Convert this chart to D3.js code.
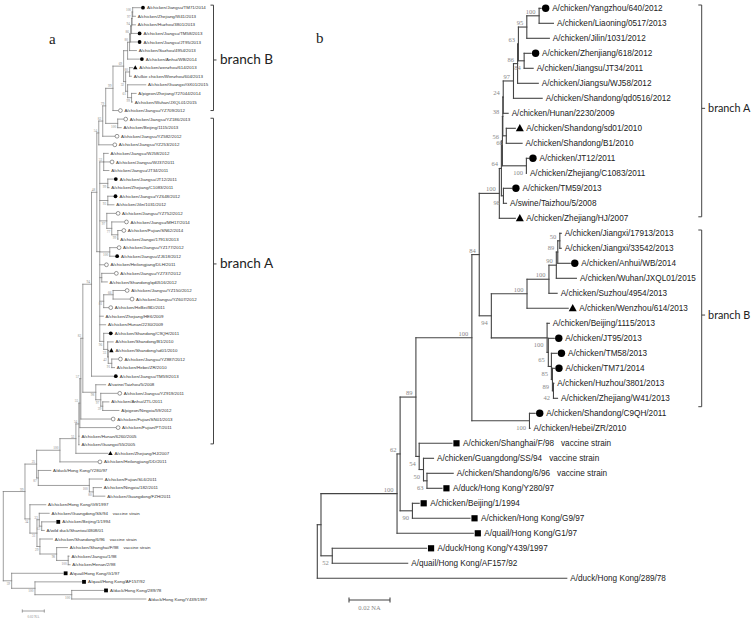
<!DOCTYPE html>
<html><head><meta charset="utf-8">
<script src="https://cdn.jsdelivr.net/npm/d3@7"></script>
<style>body{margin:0;background:#fff}</style>
</head><body>
<svg id="chart" width="754" height="621"></svg>
<script>
// ================= DATA =================
// Panel a taxa (top to bottom)
const taxaA = [
"A/chicken/Jiangsu/TM71/2014","A/chicken/Zhejiang/W41/2013","A/chicken/Huzhou/3801/2013",
"A/chicken/Jiangsu/TM58/2013","A/chicken/Jiangsu/JT95/2013","A/chicken/Suzhou/4954/2013",
"A/chicken/Anhui/WB/2014","A/chicken/wenzhou/614/2013","A/silkie chicken/Wenzhou/604/2013",
"A/chicken/Guangxi/GX01/2015","A/pigeon/Zhejiang/727044/2014","A/chicken/Wuhan/JXQL01/2015",
"A/chicken/Jiangsu/YZ709/2012","A/chicken/Jiangsu/YZ186/2013","A/chicken/Beijing/1115/2013",
"A/chicken/Jiangsu/YZ582/2012","A/chicken/Jiangsu/YZ253/2012","A/chicken/Jiangsu/WJ58/2012",
"A/chicken/Jiangsu/WJ37/2011","A/chicken/Jiangsu/JT34/2011","A/chicken/Jiangsu/JT12/2011",
"A/chicken/Zhejiang/C1083/2011","A/chicken/Jiangsu/YZ648/2012","A/chicken/Jilin/1031/2012",
"A/chicken/Jiangsu/YZ752/2012","A/chicken/Jiangsu/MH17/2014","A/chicken/Fujian/SN62/2014",
"A/chicken/Jiangxi/17913/2013","A/chicken/Jiangsu/YZ177/2012","A/chicken/Jiangsu/ZJ618/2012",
"A/chicken/Heilongjiang/DLH/2011","A/chicken/Jiangsu/YZ737/2012","A/chicken/Shandong/qd0516/2012",
"A/chicken/Jiangsu/YZ150/2012","A/chicken/Jiangsu/YZ607/2012","A/chicken/HeBei/BD/2011",
"A/chicken/Zhejiang/HE6/2009","A/chicken/Hunan/2230/2009","A/chicken/Shandong/C9QH/2011",
"A/chicken/Shandong/B1/2010","A/chicken/Shandong/sd01/2010","A/chicken/Jiangsu/YZ887/2012",
"A/chicken/Hebei/ZR/2010","A/chicken/Jiangsu/TM59/2013","A/swine/Taizhou/5/2008",
"A/chicken/Jiangsu/YZ919/2011","A/chicken/Anhui/ZTL/2011","A/pigeon/Ningxia/59/2012",
"A/chicken/Fujian/SN01/2013","A/chicken/Fujian/PT/2011","A/chicken/Hunan/6260/2005",
"A/chicken/Guangxi/55/2005","A/chicken/Zhejiang/HJ/2007","A/chicken/Heilongjiang/DD/2011",
"A/duck/Hong Kong/Y280/97","A/chicken/Fujian/SL6/2011","A/chicken/Ningxia/182/2011",
"A/chicken/Guangdong/FZH/2011","A/chicken/Hong Kong/G9/1997","A/chicken/Guangdong/SS/94",
"A/chicken/Beijing/1/1994","A/wild duck/Shantou/4808/01","A/chicken/Shandong/6/96",
"A/chicken/Shanghai/F/98","A/chicken/Jiangsu/1/98","A/chicken/Henan/2/98",
"A/quail/Hong Kong/G1/97","A/quail/Hong Kong/AF157/92","A/duck/Hong Kong/289/78",
"A/duck/Hong Kong/Y439/1997"
];
// c = filled circle, o = open circle, t = triangle, s = square, - = none
const marksA = ("c--cc-ct--" + "--oo-oo-o-" + "c-c-ooo-oc" + "oo-ooo--c-" +
                "to-c-o--oo" + "--to------" + "s-----sss-").split("");
const vaccineA = [59, 62, 63];

// Panel a tree: leaves are taxon indices, internal labels are bootstrap values,
// numbers after ":" are branch lengths (substitutions per site)
const a100a = "(0:0.0071,1:0.0025)100";
const a97 = "(" + a100a + ":0.0005,2:0.003)97";
const a94b = "(" + a97 + ":0.0005,3:0.005)94";
const a86 = "(" + a94b + ":0.0009,4:0.0059)86";
const a80 = "(" + a86 + ":0.0009,5:0.0062)80";
const aX = "(" + a80 + ":0.0018,6:0.0107)";
const aWz = "(7:0.0029,8:0.0016)80";
const a99g = "(10:0.0041,11:0.0007)99";
const a61 = "(9:0.0165," + a99g + ":0.0036)61";
const a32 = "(" + aWz + ":0.0036," + a61 + ":0.0018)32";
const a69 = "(" + aX + ":0.0036," + a32 + ":0.0018)69";
const aB = "(" + a69 + ":0.0097,12:0.0045)99";
const a100s = "(13:0.005,14:0.0032)100";
const a79 = "(" + aB + ":0.0066," + a100s + ":0.0109)79";
const a82b = "(" + a79 + ":0.0027,15:0.0107)82";
const a54a = "(" + a82b + ":0.0036,16:0.0123)54";
const aG4 = "(17:0.0041,18:0.0053,19:0.0047)32";
const aG5 = "(20:0.005,21:0.0011)99";
const aG6 = "(22:0.0047,23:0.0056)93";
const aG7 = "(24:0.008,(25:0.0111,(26:0.0032,27:0.0002)99:0.0055)77:0.0045)97";
const aG8 = "(28:0.0062,29:0.0044)100";
const aG10 = "(31:0.011,32:0.005)";
const aG11 = "((33:0.0105,34:0.015)66:0.0085,35:0.0041)81";
const aG13 = "(38:0.0041,(39:0.005,(40:0.0006,(41:0.0056,42:0.0025)91:0.0032)42:0.0005)33:0.0036)96";
const aA1 = "(" + aG4 + ":0.0036," + aG5 + ":0.0073," + aG6 + ":0.0073," + aG7 + ":0.0064," +
            aG8 + ":0.0091,30:0.0038," + aG10 + ":0.0018," + aG11 + ":0.0036,36:0.0032,37:0.0053," +
            aG13 + ":0.0036)";
const a48 = "(" + a54a + ":0.0018," + aA1 + ":0.0027)48";
const a94 = "(" + a48 + ":0.0048,43:0.0198)94";
const a39 = "(46:0.0056,47:0.0147)39";
const a97g = "(45:0.015," + a39 + ":0.0018)97";
const a98g = "(44:0.0089," + a97g + ":0.0045)98";
const a82 = "(" + a94 + ":0.0079," + a98g + ":0.0118)82";
const a57 = "(" + a82 + ":0.0018,48:0.0271)57";
const a55 = "(" + a57 + ":0.0009,49:0.0325)55";
const a54 = "(" + a55 + ":0.0009,50:0.0002,51:0.0002)54";
const a53 = "(" + a54 + ":0.0027,52:0.0291)53";
const a100c = "(" + a53 + ":0.0145,53:0.0341)100";
const a80f = "(56:0.0075,57:0.0105)80";
const aSL6 = "(55:0.012," + a80f + ":0.0036)100";
const a87 = "(54:0.0114," + aSL6 + ":0.0464)87";
const a25 = "(" + a100c + ":0.0212," + a87 + ":0.0015)25";
const aBw = "(60:0.0128,61:0.0023)63";
const a33 = "(59:0.009," + aBw + ":0.0022)33";
const a100v = "(64:0.0008,65:0.0017)100";
const a98v = "(63:0.0098," + a100v + ":0.0105)98";
const a29 = "(62:0.0114," + a98v + ":0.0152)29";
const a31 = "(" + a33 + ":0.0021," + a29 + ":0.0027)31";
const a34 = "(58:0.0144," + a31 + ":0.0064)34";
const a99r = "(" + a25 + ":0.0106," + a34 + ":0.0045)99";
const a100d = "(68:0.0289,69:0.0674)100";
const a100q = "(67:0.0423," + a100d + ":0.0334)100";
const a59 = "(66:0.0468," + a100q + ":0.0212)59";
const newickA = "(" + a99r + ":0.0197," + a59 + ":0.0076);";

// Panel b taxa (top to bottom)
const taxaB = [
"A/chicken/Yangzhou/640/2012","A/chicken/Liaoning/0517/2013","A/chicken/Jilin/1031/2012",
"A/chicken/Zhenjiang/618/2012","A/chicken/Jiangsu/JT34/2011","A/chicken/Jiangsu/WJ58/2012",
"A/chicken/Shandong/qd0516/2012","A/chicken/Hunan/2230/2009","A/chicken/Shandong/sd01/2010",
"A/chicken/Shandong/B1/2010","A/chicken/JT12/2011","A/chicken/Zhejiang/C1083/2011",
"A/chicken/TM59/2013","A/swine/Taizhou/5/2008","A/chicken/Zhejiang/HJ/2007",
"A/chicken/Jiangxi/17913/2013","A/chicken/Jiangxi/33542/2013","A/chicken/Anhui/WB/2014",
"A/chicken/Wuhan/JXQL01/2015","A/chicken/Suzhou/4954/2013","A/chicken/Wenzhou/614/2013",
"A/chicken/Beijing/1115/2013","A/chicken/JT95/2013","A/chicken/TM58/2013",
"A/chicken/TM71/2014","A/chicken/Huzhou/3801/2013","A/chicken/Zhejiang/W41/2013",
"A/chicken/Shandong/C9QH/2011","A/chicken/Hebei/ZR/2010","A/chicken/Shanghai/F/98",
"A/chicken/Guangdong/SS/94","A/chicken/Shandong/6/96","A/duck/Hong Kong/Y280/97",
"A/chicken/Beijing/1/1994","A/chicken/Hong Kong/G9/97","A/quail/Hong Kong/G1/97",
"A/duck/Hong Kong/Y439/1997","A/quail/Hong Kong/AF157/92","A/duck/Hong Kong/289/78"
];
const marksB = ("c--c----t-" + "c-c-t--c--" + "t-ccc--c-s" + "--sssss--").split("");
const vaccineB = [29, 30, 31];

const bA = "((((((((((0:0.001,1:0.007)100:0.006,2:0.011)95:0.0041,(3:0.0034,4:0.0044)84:0.0028)63:0.0004," +
           "5:0.0101)86:0.002,6:0.014)97:0.005,7:0.0024)24:0.0002,(8:0.0044,9:0.0077)66:0.0017)38:0.0002," +
           "(10:0.001,11:0)100:0.0117)56:0.0005,(12:0.0039,13:0.0015)98:0.001)64:0.001,14:0.0078)100";
const b100c = "(((((15:0.0007,16:0.0007)50:0.001,17:0.0061)89:0.0007,18:0.0098)90:0.0036,19:0.004)100:0.0107,20:0.0201)100";
const b100e = "(21:0.0011,(22:0.0029,(23:0.0027,(24:0.001,(25:0.0002,26:0.002)42:0.0005)89:0.0005)85:0.0015)65:0.0006)100";
const b94 = "(" + b100c + ":0.0174," + b100e + ":0.0272)94";
const b84 = "(" + bA + ":0.0098," + b94 + ":0.0059)84";
const b100f = "(27:0.0028,28:0.0003)100";
const b100b = "(" + b84 + ":0.0036," + b100f + ":0.0281)100";
const b54 = "(29:0.016,(30:0.0049,(31:0.0128,32:0.0073)63:0.0017)50:0.0021)54";
const b89 = "(" + b100b + ":0.0273," + b54 + ":0.0016)89";
const b90 = "(33:0.0033,34:0.0281)90";
const b62 = "(" + b89 + ":0.0077," + b90 + ":0.006)62";
const b100top = "(" + b62 + ":0.0015,35:0.0372)100";
const b52 = "(36:0.046,37:0.0368)52";
const newickB = "((" + b100top + ":0.0371," + b52 + ":0.0055):0.0018,38:0.1217);";

const scaleBarValue = 0.02;
const scaleBarText = "0.02 NA";
// brackets: [label, first leaf, last leaf, label row] in leaf-row units
const bracketsA = [["branch B", -0.3, 12.0, 6.1], ["branch A", 12.9, 50.9, 29.9]];
const bracketsB = [["branch A", -0.22, 13.9, 6.67], ["branch B", 14.78, 26.56, 20.45]];

// ================= DRAWING =================
function parseNewick(s) {
  let i = 0;
  function node() {
    const n = {children: []};
    if (s[i] === "(") {
      i++;
      n.children.push(node());
      while (s[i] === ",") { i++; n.children.push(node()); }
      i++;
    }
    let name = "";
    while (i < s.length && !",):;".includes(s[i])) name += s[i++];
    n.name = name;
    n.length = 0;
    if (s[i] === ":") {
      i++; let bl = "";
      while (i < s.length && !",);".includes(s[i])) bl += s[i++];
      n.length = +bl;
    }
    if (!n.children.length) delete n.children;
    return n;
  }
  return node();
}

const svg = d3.select("#chart");

function marker(g, m, cx, cy, c) {
  if (m === "c" || m === "o") {
    g.append("circle").attr("cx", cx).attr("cy", cy).attr("r", c.r)
      .attr("fill", m === "c" ? "#000" : "#fff").attr("stroke", m === "c" ? "none" : "#333")
      .attr("stroke-width", c.ow);
  } else if (m === "t") {
    const s = c.tri;
    g.append("path").attr("d", `M${cx},${cy - s * 0.55}L${cx - s / 2},${cy + s * 0.38}L${cx + s / 2},${cy + s * 0.38}Z`)
      .attr("fill", "#000");
  } else if (m === "s") {
    g.append("rect").attr("x", cx - c.sq / 2).attr("y", cy - c.sq / 2)
      .attr("width", c.sq).attr("height", c.sq).attr("fill", "#000");
  }
}

function drawTree(c) {
  const g = svg.append("g");
  const root = d3.hierarchy(parseNewick(c.newick));
  root.eachBefore(d => d.dist = d.parent ? d.parent.dist + d.data.length : 0);
  const x = d3.scaleLinear().domain([0, 1]).range([c.x0, c.x0 + c.ppu]);
  const y = d3.scaleLinear().domain([0, c.taxa.length - 1]).range([c.y0, c.y1]);
  root.eachAfter(d => {
    d.py = d.children ? (d.children[0].py + d.children[d.children.length - 1].py) / 2 : y(+d.data.name);
  });
  const nodes = root.descendants();
  g.selectAll(null).data(nodes.filter(d => d.parent)).join("line")
    .attr("x1", d => x(d.parent.dist)).attr("x2", d => x(d.dist))
    .attr("y1", d => d.py).attr("y2", d => d.py)
    .attr("stroke", c.line).attr("stroke-width", c.lw).attr("stroke-linecap", "square");
  g.selectAll(null).data(nodes.filter(d => d.children)).join("line")
    .attr("x1", d => x(d.dist)).attr("x2", d => x(d.dist))
    .attr("y1", d => d.children[0].py).attr("y2", d => d.children[d.children.length - 1].py)
    .attr("stroke", c.line).attr("stroke-width", c.lw).attr("stroke-linecap", "square");
  // bootstrap values
  g.selectAll(null).data(nodes.filter(d => d.children && d.parent && d.data.name)).join("text")
    .attr("x", d => x(d.dist) - c.bx)
    .attr("y", d => d.parent.children[0] === d ? d.py - c.bUp : d.py + c.bDown)
    .attr("text-anchor", "end").attr("font-family", "Liberation Serif, serif")
    .attr("font-size", c.bfs).attr("fill", c.bcol).text(d => d.data.name);
  // leaves
  root.leaves().forEach(d => {
    const i = +d.data.name, tx = x(d.dist), m = c.marks[i];
    const has = m && m !== "-";
    if (has) marker(g, m, tx + c.mOff, d.py, c);
    const t = g.append("text").attr("x", tx + (has ? c.lOffM : c.lOff)).attr("y", d.py + c.fs * 0.36)
      .attr("font-family", "Liberation Sans, Arial, sans-serif").attr("font-size", c.fs).attr("fill", c.tcol);
    t.append("tspan").text(c.taxa[i]);
    if (c.vaccine.includes(i)) t.append("tspan").attr("dx", c.vdx).text("vaccine strain");
  });
  // scale bar
  const sx = c.sbx, sw = x(scaleBarValue) - x(0);
  const sb = g.append("g").attr("stroke", c.line).attr("stroke-width", c.lw);
  sb.append("line").attr("x1", sx).attr("x2", sx + sw).attr("y1", c.sby).attr("y2", c.sby);
  sb.append("line").attr("x1", sx).attr("x2", sx).attr("y1", c.sby - c.sbt).attr("y2", c.sby + c.sbt);
  sb.append("line").attr("x1", sx + sw).attr("x2", sx + sw).attr("y1", c.sby - c.sbt).attr("y2", c.sby + c.sbt);
  g.append("text").attr("x", sx + sw / 2).attr("y", c.sby + c.sbTy).attr("text-anchor", "middle")
    .attr("font-family", "Liberation Serif, serif").attr("font-size", c.bfs).attr("fill", c.bcol).text(scaleBarText);
  // brackets
  c.brackets.forEach(([name, a, b, mid]) => {
    const y1 = y(a), y2 = y(b), ym = y(mid);
    g.append("path").attr("d", `M${c.brx - c.brt},${y1}H${c.brx}V${y2}H${c.brx - c.brt}M${c.brx},${ym}H${c.brx + c.brt}`)
      .attr("fill", "none").attr("stroke", c.brcol).attr("stroke-width", c.brw);
    g.append("text").attr("x", c.brx + c.brt + c.brgap).attr("y", ym + c.brfs * 0.33)
      .attr("font-family", "Lato, sans-serif").attr("font-size", c.brfs).attr("fill", "#222").text(name);
  });
  // panel letter
  g.append("text").attr("x", c.letX).attr("y", c.letY).attr("font-family", "Liberation Serif, serif")
    .attr("font-size", 15).attr("fill", "#222").text(c.letter);
}

drawTree({
  newick: newickA, taxa: taxaA, marks: marksA, vaccine: vaccineA,
  x0: 3.3, ppu: 1100, y0: 7.7, y1: 599,
  line: "#777", lw: 0.7, fs: 4.4, tcol: "#333", bfs: 3.4, bcol: "#888",
  bx: 1.6, bUp: 0.9, bDown: 4.2, mOff: 2.5, lOffM: 6.5, lOff: 2.3,
  r: 1.9, ow: 0.5, tri: 4.4, sq: 3.8, vdx: 5,
  sbx: 22.3, sby: 611, sbt: 1.6, sbTy: 6.5,
  brackets: bracketsA, brx: 213.5, brt: 3, brgap: 3.5, brfs: 13.6, brcol: "#444", brw: 1,
  letter: "a", letX: 49, letY: 44
});

drawTree({
  newick: newickB, taxa: taxaB, marks: marksB, vaccine: vaccineB,
  x0: 317.3, ppu: 2050, y0: 8.3, y1: 578.3,
  line: "#444", lw: 1.1, fs: 8.2, tcol: "#222", bfs: 6.5, bcol: "#888",
  bx: 3.5, bUp: 2, bDown: 9.5, mOff: 4.5, lOffM: 11, lOff: 3.5,
  r: 3.7, ow: 0.8, tri: 8, sq: 6.2, vdx: 7,
  sbx: 349, sby: 600, sbt: 2.5, sbTy: 10,
  brackets: bracketsB, brx: 701.7, brt: 3.4, brgap: 3, brfs: 10.8, brcol: "#444", brw: 1,
  letter: "b", letX: 316, letY: 43
});
</script>
</body></html>
